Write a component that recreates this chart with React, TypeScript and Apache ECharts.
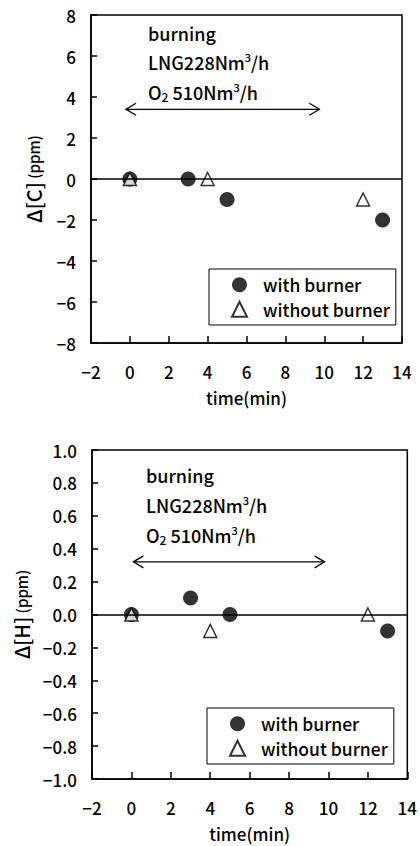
import React, { useEffect, useRef } from 'react';
import * as echarts from 'echarts';

const FONT = '"Noto Sans CJK JP", "Noto Sans", sans-serif';
const WEIGHT = 500;

// Chart 1: Δ[C]
const timeCWith = [0, 3, 5, 13];
const dCWith = [0, 0, -1, -2];
const timeCWithout = [0, 4, 12];
const dCWithout = [0, 0, -1];

// Chart 2: Δ[H]
const timeHWith = [0, 3, 5, 13];
const dHWith = [0, 0.1, 0, -0.1];
const timeHWithout = [0, 4, 12];
const dHWithout = [0, -0.1, 0];

const seriesNames = ['with burner', 'without burner'];
const xRange = [-2, 14, 2];
const yRangeC = [-8, 8, 2];
const yRangeH = [-1, 1, 0.2];
const annotationLines = ['burning', 'LNG228Nm{sup|3}/h', 'O{sub|2} 510Nm{sup|3}/h'];
// burning period arrow (time span, y level) per chart
const arrowC = [-0.2, 9.75, 3.4];
const arrowH = [0.1, 9.8, 0.32];

const zip = (xs: number[], ys: number[]) => xs.map((x, i) => [x, ys[i]]);
const minus = (s: string) => s.replace('-', '\u2212');

export default function App() {
  const ref = useRef<HTMLDivElement>(null);
  useEffect(() => {
    const chart = echarts.init(ref.current!, null, { renderer: 'svg' });
    const grids = [
      { left: 91, top: 15, width: 311, height: 328 },
      { left: 92, top: 450, width: 316, height: 329 },
    ];
    const txt = { color: '#000', fontFamily: FONT, fontSize: 17, fontWeight: WEIGHT };
    const axisLine = { show: true, onZero: false, lineStyle: { color: '#000', width: 1.5 } };
    const tick = (len: number) => ({ show: true, inside: true, length: len, lineStyle: { color: '#000', width: 1.5 } });
    const mkX = (i: number) => ({
      gridIndex: i,
      type: 'value',
      position: 'bottom',
      min: xRange[0],
      max: xRange[1],
      interval: xRange[2],
      axisLine,
      axisTick: tick(7),
      axisLabel: { ...txt, margin: 20, formatter: (v: number) => minus(String(v)) },
      splitLine: { show: false },
      name: 'time(min)',
      nameLocation: 'middle',
      nameGap: 46,
      nameTextStyle: { ...txt },
      z: 5,
    });
    const mkY = (i: number, r: number[], name: string, dec: number) => ({
      gridIndex: i,
      type: 'value',
      position: 'left',
      min: r[0],
      max: r[1],
      interval: r[2],
      axisLine,
      axisTick: tick(6),
      axisLabel: {
        ...txt,
        margin: 15,
        formatter: (v: number) => (Math.abs(v) < 1e-9 ? (0).toFixed(dec) : minus(v.toFixed(dec))),
      },
      splitLine: { show: false },
      name,
      nameLocation: 'middle',
      nameRotate: 90,
      nameGap: 48,
      nameTextStyle: {
        color: '#000',
        rich: {
          a: { fontSize: 20, fontFamily: FONT, fontWeight: WEIGHT, color: '#000' },
          b: { fontSize: 15, fontFamily: FONT, fontWeight: WEIGHT, color: '#000' },
        },
      },
      z: 5,
    });
    const zeroLine = {
      silent: true,
      symbol: 'none',
      label: { show: false },
      lineStyle: { color: '#000', width: 1.5, type: 'solid' },
      data: [{ yAxis: 0 }],
    };
    const withS = (i: number, data: number[][]) => ({
      name: seriesNames[0],
      type: 'scatter',
      xAxisIndex: i,
      yAxisIndex: i,
      symbol: 'circle',
      symbolSize: 15,
      itemStyle: { color: '#000' },
      data,
      markLine: zeroLine,
      z: 3,
    });
    const withoutS = (i: number, data: number[][]) => ({
      name: seriesNames[1],
      type: 'scatter',
      xAxisIndex: i,
      yAxisIndex: i,
      symbol: 'triangle',
      symbolSize: 13,
      itemStyle: { color: '#fff', borderColor: '#000', borderWidth: 1.5 },
      data,
      z: 4,
    });
    const mkLegend = (left: number, top: number) => ({
      left,
      top,
      orient: 'vertical',
      backgroundColor: '#fff',
      borderColor: '#000',
      borderWidth: 1,
      borderRadius: 0,
      padding: [7, 6, 7, 22],
      itemWidth: 15,
      itemHeight: 15,
      itemGap: 7,
      selectedMode: false,
      textStyle: { ...txt, fontSize: 17.5, lineHeight: 16, padding: [0, 0, 0, 11] },
      data: [
        { name: seriesNames[0], icon: 'circle' },
        { name: seriesNames[1], icon: 'triangle' },
      ],
    });
    chart.setOption({
      animation: false,
      backgroundColor: '#fff',
      grid: grids.map((g) => ({ ...g, show: true, borderColor: '#000', borderWidth: 1.5, z: 0 })),
      xAxis: [mkX(0), mkX(1)],
      yAxis: [
        mkY(0, yRangeC, '{a|\u0394[C]} {b|(ppm)}', 0),
        mkY(1, yRangeH, '{a|\u0394[H]} {b|(ppm)}', 1),
      ],
      legend: [mkLegend(209, 269), mkLegend(207, 708)],
      series: [
        withS(0, zip(timeCWith, dCWith)),
        withoutS(0, zip(timeCWithout, dCWithout)),
        withS(1, zip(timeHWith, dHWith)),
        withoutS(1, zip(timeHWithout, dHWithout)),
      ],
    });

    const graphic: any[] = [];
    const textPos = [
      { x: 148, ys: [33, 62, 92] },
      { x: 146, ys: [475, 505, 535] },
    ];
    textPos.forEach((tp) => {
      annotationLines.forEach((t, k) => {
        graphic.push({
          type: 'text',
          x: tp.x,
          y: tp.ys[k],
          z: 10,
          style: {
            text: t,
            fill: '#000',
            fontSize: 18,
            fontWeight: WEIGHT,
            fontFamily: FONT,
            verticalAlign: 'middle',
            align: 'left',
            rich: {
              sup: { fontSize: 11, fontFamily: FONT, fontWeight: WEIGHT, verticalAlign: 'top', fill: '#000', padding: [0, 0, 10, 0] },
              sub: { fontSize: 12, fontFamily: FONT, fontWeight: WEIGHT, verticalAlign: 'bottom', fill: '#000', padding: [8, 0, 0, 0] },
            },
          },
        });
      });
    });
    [arrowC, arrowH].forEach((a, i) => {
      const p1 = chart.convertToPixel({ gridIndex: i }, [a[0], a[2]]) as number[];
      const p2 = chart.convertToPixel({ gridIndex: i }, [a[1], a[2]]) as number[];
      const ls = { stroke: '#000', lineWidth: 1.3, fill: null };
      graphic.push({ type: 'line', shape: { x1: p1[0], y1: p1[1], x2: p2[0], y2: p2[1] }, style: ls, z: 10 });
      graphic.push({
        type: 'polyline',
        shape: { points: [[p1[0] + 10, p1[1] - 6], [p1[0], p1[1]], [p1[0] + 10, p1[1] + 6]] },
        style: ls,
        z: 10,
      });
      graphic.push({
        type: 'polyline',
        shape: { points: [[p2[0] - 10, p2[1] - 6], [p2[0], p2[1]], [p2[0] - 10, p2[1] + 6]] },
        style: ls,
        z: 10,
      });
    });
    chart.setOption({ graphic });
    return () => chart.dispose();
  }, []);
  return <div ref={ref} style={{ position: 'fixed', left: 0, top: 0, width: 420, height: 846 }} />;
}
